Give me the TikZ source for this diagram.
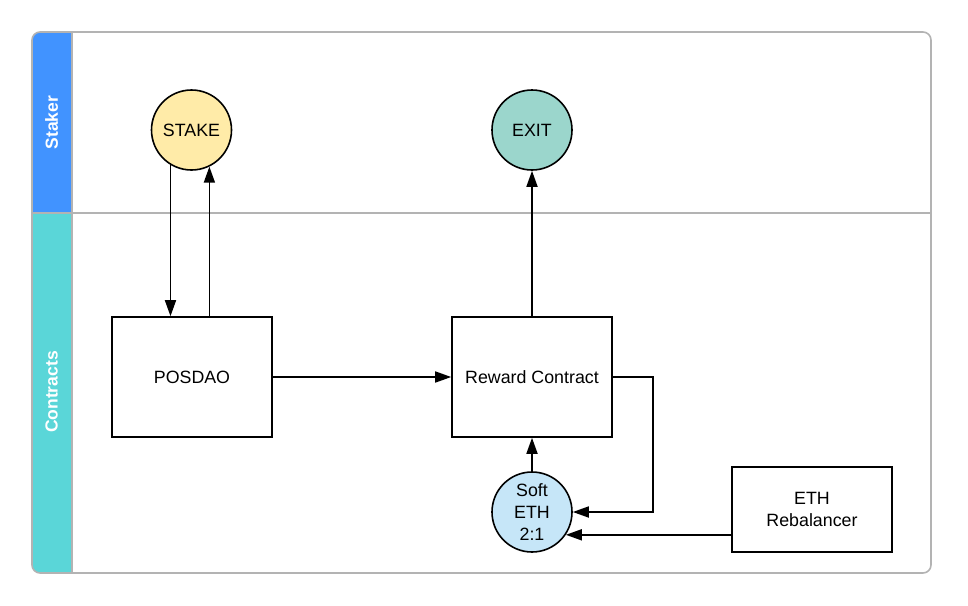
\documentclass[tikz,border=0pt]{standalone}
\usepackage{fontspec}
\setmainfont{Liberation Sans}
\usetikzlibrary{arrows.meta}
\definecolor{hblue}{HTML}{4193FF}
\definecolor{hcyan}{HTML}{5AD6D8}
\definecolor{framegray}{HTML}{B3B3B3}
\definecolor{stakefill}{HTML}{FFEBA8}
\definecolor{exitfill}{HTML}{9BD6CC}
\definecolor{softfill}{HTML}{C6E6F8}
\begin{document}
\begin{tikzpicture}[x=1pt,y=-1pt,
  every node/.style={font=\fontsize{17.8}{22}\selectfont},
  boxnode/.style={draw=black, line width=1.6pt, minimum width=160pt, minimum height=120pt, inner sep=0pt, align=center},
  circnode/.style={draw=black, line width=1.6pt, circle, minimum size=80pt, inner sep=0pt, align=center},
  lanelabel/.style={rotate=90, text=white, font=\fontsize{17.5}{20}\selectfont\bfseries},
  frameline/.style={draw=framegray, line width=1.6pt},
  arr/.style={draw=black, line width=1.7pt, -{Triangle[length=16pt,width=11pt]}}
]
\useasboundingbox (0,0) rectangle (968,605);
% lane headers
\begin{scope}
  \clip[rounded corners=8pt] (32,32) rectangle (931,573);
  \fill[hblue] (32,32) rectangle (72,213);
  \fill[hcyan] (32,213) rectangle (72,573);
\end{scope}
\draw[frameline] (72,32) -- (72,573);
\draw[frameline] (32,213) -- (931,213);
\draw[frameline, rounded corners=8pt] (32,32) rectangle (931,573);
\node[lanelabel] (lstaker) at (51.5,122.5) {Staker};
\node[lanelabel] (lcontracts) at (51.5,392) {Contracts};
% nodes
\node[circnode, fill=stakefill] (stake) at (191.5,130) {STAKE};
\node[circnode, fill=exitfill] (exit) at (532,130) {EXIT};
\node[boxnode] (posdao) at (192,377) {POSDAO};
\node[boxnode] (reward) at (532,377) {Reward Contract};
\node[circnode, fill=softfill] (soft) at (532,512) {Soft\\ETH\\2:1};
\node[boxnode, minimum height=85pt] (reb) at (812,509.5) {ETH\\Rebalancer};
% connectors
\draw[arr] (stake.-121) -- (stake.-121 |- posdao.north);
\draw[arr] (posdao.north -| stake.-64) -- (stake.-64);
\draw[arr] (posdao.east) -- (reward.west);
\draw[arr] (reward.north) -- (exit.south);
\draw[arr] (soft.north) -- (reward.south);
\draw[arr] (reward.east) -- (653,377) -- (653,512) -- (soft.east);
\draw[arr] (soft.-34 -| reb.west) -- (soft.-34);
\end{tikzpicture}
\end{document}
